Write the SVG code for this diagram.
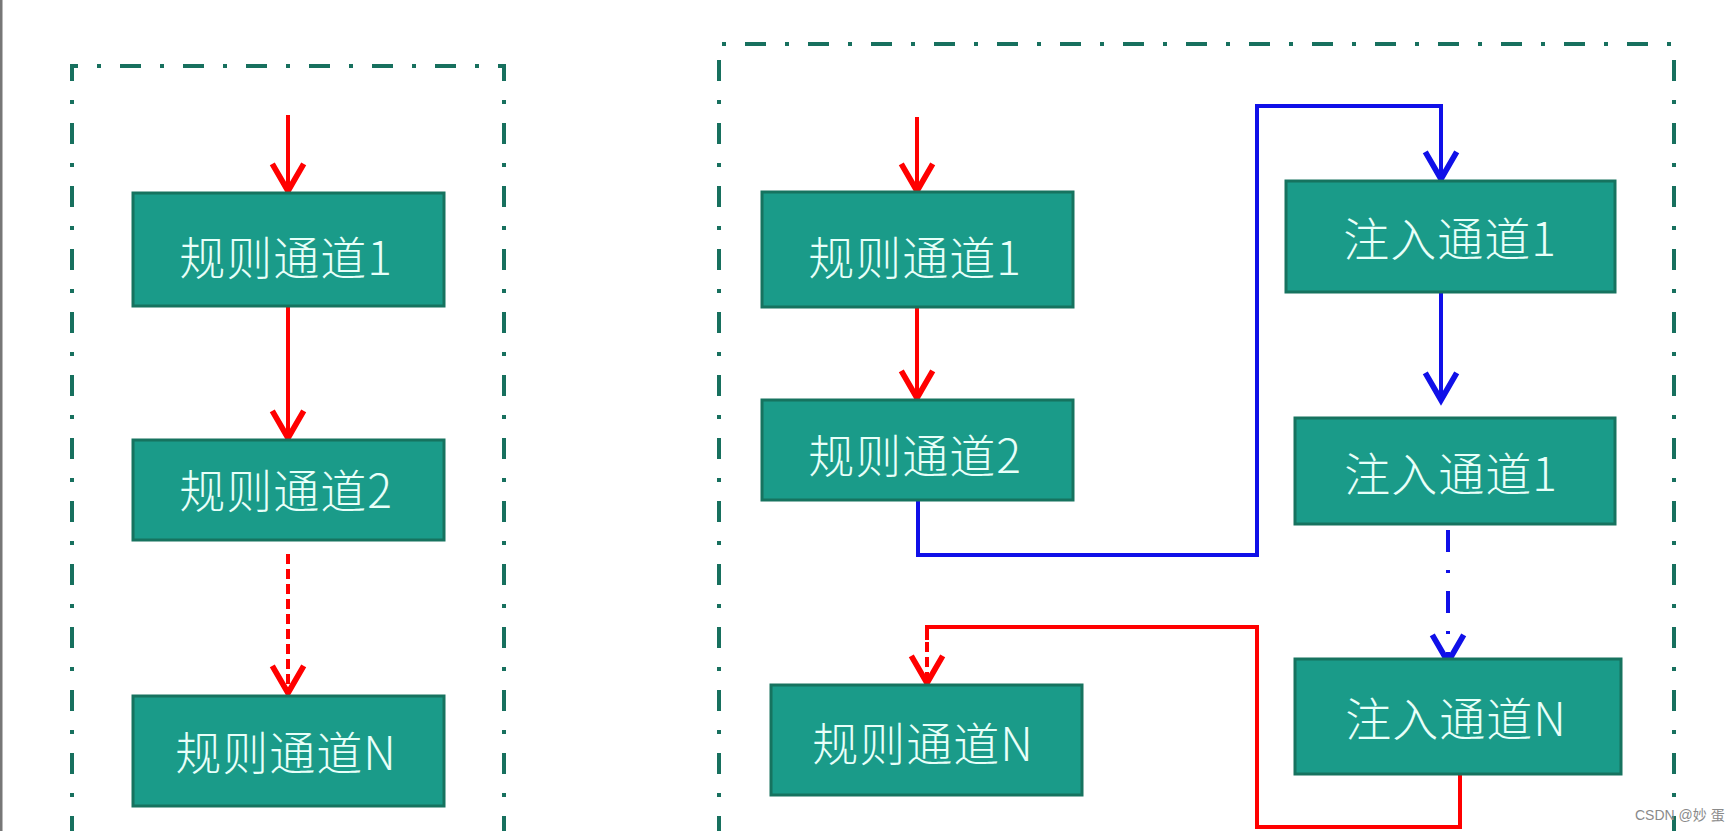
<svg xmlns="http://www.w3.org/2000/svg" width="1728" height="831" viewBox="0 0 1728 831">
<style>
.frame{fill:none;stroke:#17705e;stroke-width:4;stroke-dasharray:21 19 4 19}
.node rect{fill:#1a9b89;stroke:#16735f;stroke-width:3}
.node text{font-family:"Noto Sans CJK SC","Noto Sans",sans-serif;font-size:46px;font-weight:300;fill:#e8fff9;text-anchor:middle;letter-spacing:1px}
.red{fill:none;stroke:#ff0000;stroke-width:4}
.blue{fill:none;stroke:#1010e8;stroke-width:4}
.dash{stroke-dasharray:10 5}
.dashdot{stroke-dasharray:22 18 3 18}
.wm{font-family:"Liberation Sans","Noto Sans CJK SC",sans-serif;font-size:14px;fill:#8a8a8a}
</style>
<defs>
<marker id="ar" markerUnits="userSpaceOnUse" orient="auto" refX="0" refY="0" markerWidth="40" markerHeight="40" viewBox="-24 -14 28 28" overflow="visible">
<path d="M-19,-11 L0,0 L-19,11" fill="none" stroke="#ff0000" stroke-width="4"/>
</marker>
<marker id="ab" markerUnits="userSpaceOnUse" orient="auto" refX="0" refY="0" markerWidth="40" markerHeight="40" viewBox="-24 -14 28 28" overflow="visible">
<path d="M-19,-11 L0,0 L-19,11" fill="none" stroke="#1010e8" stroke-width="4"/>
</marker>
</defs>
<rect x="0" y="0" width="1728" height="831" fill="#ffffff"/>
<rect x="0" y="0" width="2.5" height="831" fill="#777777"/>
<g id="frames">
<path class="frame" d="M72,900 V66 H504 V900"/>
<path class="frame" d="M719,900 V44 H1674 V900"/>
</g>
<g id="connectors">
<path class="red" d="M288,115 V191" marker-end="url(#ar)"/>
<path class="red" d="M288,306 V438" marker-end="url(#ar)"/>
<path class="red dash" d="M288,554 V693" marker-end="url(#ar)"/>
<path class="red" d="M917,117 V191" marker-end="url(#ar)"/>
<path class="red" d="M917,307 V398" marker-end="url(#ar)"/>
<path class="blue" d="M918,500 V555 H1257 V106 H1441 V179" marker-end="url(#ab)"/>
<path class="blue" d="M1441,292 V400" marker-end="url(#ab)"/>
<path class="blue dashdot" d="M1448,530 V662" marker-end="url(#ab)"/>
<path class="red" d="M1460,774 V827 H1257 V627 H927 V640"/>
<path class="red dash" d="M927,627 V683" marker-end="url(#ar)"/>
</g>
<g id="L1" class="node"><rect x="133" y="193" width="311" height="113"/><text x="286" y="275">规则通道1</text></g>
<g id="L2" class="node"><rect x="133" y="440" width="311" height="100"/><text x="286" y="508">规则通道2</text></g>
<g id="LN" class="node"><rect x="133" y="696" width="311" height="110"/><text x="286" y="770">规则通道N</text></g>
<g id="R1" class="node"><rect x="762" y="192" width="311" height="115"/><text x="915" y="275">规则通道1</text></g>
<g id="R2" class="node"><rect x="762" y="400" width="311" height="100"/><text x="915" y="473">规则通道2</text></g>
<g id="RN" class="node"><rect x="771" y="685" width="311" height="110"/><text x="923" y="761">规则通道N</text></g>
<g id="I1" class="node"><rect x="1286" y="181" width="329" height="111"/><text x="1450" y="256">注入通道1</text></g>
<g id="I2" class="node"><rect x="1295" y="418" width="320" height="106"/><text x="1451" y="491">注入通道1</text></g>
<g id="IN" class="node"><rect x="1295" y="659" width="326" height="115"/><text x="1456" y="736">注入通道N</text></g>
<text class="wm" x="1635" y="820">CSDN @妙 蛋</text>
</svg>
